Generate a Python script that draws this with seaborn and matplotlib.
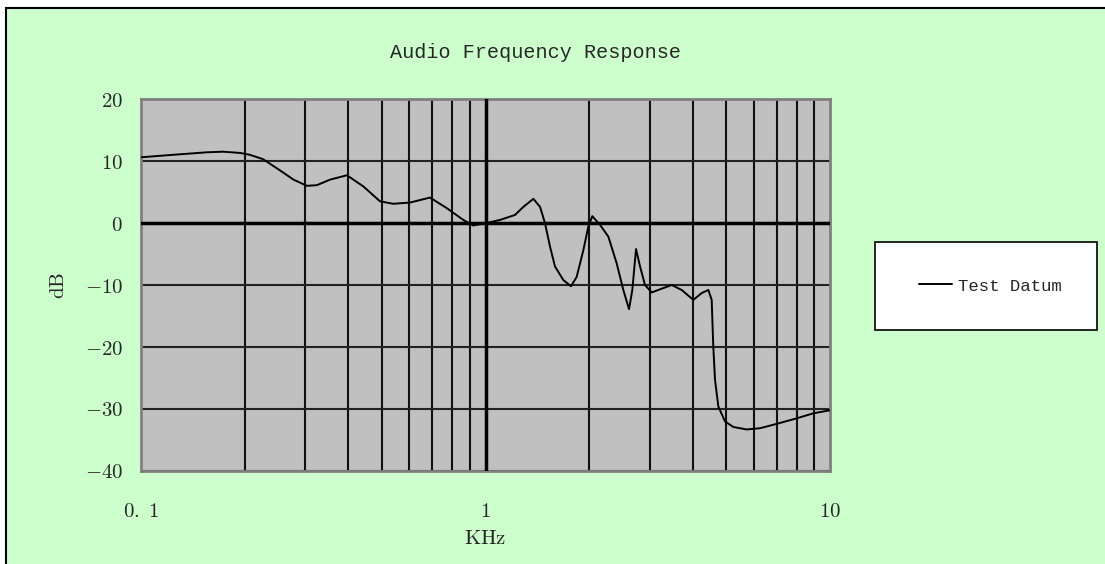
import numpy as np
import pandas as pd
import matplotlib
matplotlib.use("Agg")
import matplotlib.pyplot as plt
import matplotlib.ticker as mticker
from matplotlib.patches import Rectangle
import seaborn as sns

# values
freq_khz = [0.100, 0.124, 0.155, 0.173, 0.194, 0.207, 0.226, 0.253, 0.277, 0.303,
            0.324, 0.354, 0.396, 0.442, 0.494, 0.540, 0.604, 0.690, 0.772, 0.862,
            0.922, 1.008, 1.102, 1.218, 1.288, 1.377, 1.440, 1.488, 1.539, 1.591,
            1.682, 1.771, 1.839, 1.923, 1.988, 2.042, 2.150, 2.273, 2.403, 2.512,
            2.610, 2.668, 2.735, 2.809, 2.904, 3.037, 3.245, 3.472, 3.711, 4.011,
            4.242, 4.434, 4.535, 4.584, 4.637, 4.741, 4.957, 5.240, 5.731, 6.264,
            7.003, 8.008, 8.945, 10.0]
level_db = [10.6, 11.0, 11.4, 11.5, 11.3, 11.0, 10.3, 8.5, 7.0, 6.0,
            6.1, 7.0, 7.7, 5.9, 3.5, 3.1, 3.3, 4.1, 2.4, 0.5,
            -0.4, 0.0, 0.5, 1.3, 2.6, 3.9, 2.6, 0.0, -3.8, -7.0,
            -9.2, -10.2, -8.7, -4.4, -0.6, 1.1, -0.3, -2.2, -6.5, -10.8,
            -13.9, -10.8, -4.2, -7.0, -10.0, -11.2, -10.6, -10.0, -10.8, -12.4,
            -11.3, -10.8, -12.4, -20.0, -25.3, -29.6, -32.0, -32.9, -33.3, -33.1,
            -32.4, -31.5, -30.7, -30.2]
x_ticks = [0.1, 1, 10]
x_tick_labels = [r"$0.\ 1$", r"$1$", r"$10$"]
y_ticks = [20, 10, 0, -10, -20, -30, -40]

df = pd.DataFrame({"KHz": freq_khz, "dB": level_db})

sns.set_style("white")
plt.rcParams["mathtext.fontset"] = "cm"
plt.rcParams["font.family"] = ["Liberation Mono", "DejaVu Sans"]

fig = plt.figure(figsize=(11.05, 5.64), dpi=100)
fig.patch.set_facecolor("white")

# green panel behind everything
fig.patches.append(Rectangle((6 / 1105, -0.01), 1.0, 1 - 8 / 564 + 0.01,
                             transform=fig.transFigure, facecolor="#CCFFCC",
                             edgecolor="black", linewidth=1.5, zorder=-10))

ax = fig.add_axes([141 / 1105, 93 / 564, 689 / 1105, 372 / 564])
ax.set_facecolor("#C0C0C0")

sns.lineplot(data=df, x="KHz", y="dB", ax=ax, color="black", linewidth=1.4,
             sort=False, estimator=None, label="Test Datum", zorder=5,
             solid_joinstyle="round")

ax.set_xscale("log")
ax.set_xlim(0.1, 10)
ax.set_ylim(-40, 20)
ax.set_xticks(x_ticks, labels=x_tick_labels)
ax.xaxis.set_minor_locator(mticker.LogLocator(base=10, subs=np.arange(2, 10)))
ax.xaxis.set_minor_formatter(mticker.NullFormatter())
ax.set_yticks(y_ticks, labels=[rf"${v}$" if v >= 0 else rf"$-{abs(v)}$" for v in y_ticks])
ax.tick_params(which="both", length=0, labelsize=15)
ax.tick_params(axis="y", pad=13)
ax.tick_params(axis="x", pad=22)

ax.grid(which="minor", axis="x", color="#111111", linewidth=1.5)
ax.grid(which="major", axis="y", color="#222222", linewidth=1.5)
ax.axhline(0, color="black", linewidth=2.5, zorder=3)
ax.axvline(1, color="black", linewidth=2.5, zorder=3)

for s in ax.spines.values():
    s.set_color("#808080")
    s.set_linewidth(2)

ax.set_xlabel(r"$\mathrm{KHz}$", fontsize=15, va="top")
ax.xaxis.set_label_coords(0.5, -0.155)
ax.set_ylabel(r"$\mathrm{dB}$", fontsize=15)
ax.yaxis.set_label_coords(-0.106, 0.5)

fig.text(535 / 1105, 1 - 52 / 564, "Audio Frequency Response",
         ha="center", va="center", fontsize=14.5)

# legend box
fig.patches.append(Rectangle((875 / 1105, 1 - 330 / 564), 222 / 1105, 88 / 564,
                             transform=fig.transFigure, facecolor="white",
                             edgecolor="black", linewidth=1.2, zorder=-5))
ax.get_legend().remove()
fig.legend(loc="center", bbox_to_anchor=(990 / 1105, 1 - 286 / 564),
           frameon=False, fontsize=12.5, handlelength=1.9, handletextpad=0.35)

fig.savefig("out.png", dpi=100, facecolor=fig.get_facecolor())
